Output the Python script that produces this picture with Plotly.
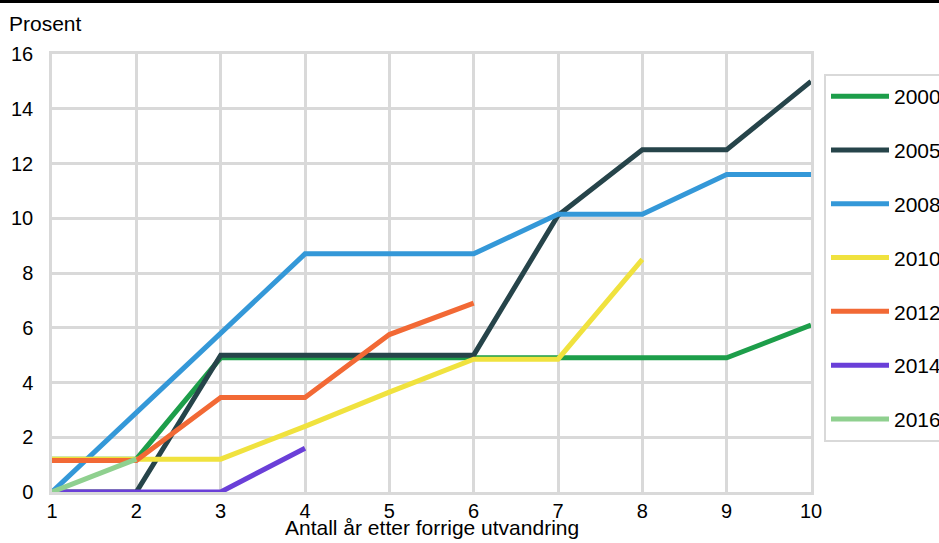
import plotly.graph_objects as go

years_after = [1, 2, 3, 4, 5, 6, 7, 8, 9, 10]

series_names = ["2000", "2005", "2008", "2010", "2012", "2014", "2016"]
s2000 = [1.2, 1.2, 4.9, 4.9, 4.9, 4.9, 4.9, 4.9, 4.9, 6.1]
s2005 = [0.0, 0.0, 5.0, 5.0, 5.0, 5.0, 10.1, 12.5, 12.5, 15.0]
s2008 = [0.0, 2.9, 5.8, 8.7, 8.7, 8.7, 10.15, 10.15, 11.6, 11.6]
s2010 = [1.2, 1.2, 1.2, 2.4, 3.65, 4.85, 4.85, 8.5]
s2012 = [1.15, 1.15, 3.45, 3.45, 5.75, 6.9]
s2014 = [0.0, 0.0, 0.0, 1.6]
s2016 = [0.0, 1.2]
series_values = [s2000, s2005, s2008, s2010, s2012, s2014, s2016]
colors = ["#1d9e4a", "#26444a", "#3498d8", "#f0e23e", "#f26935", "#6a3fd8", "#8fd08f"]

y_ticks = [0, 2, 4, 6, 8, 10, 12, 14, 16]
x_title = "Antall år etter forrige utvandring"
y_title = "Prosent"

FONT = "Liberation Sans, Arial, sans-serif"
FS = 20
FT = 21
W, H = 939, 543
L, R, T, B = 52, 128, 54, 51
pw, ph = W - L - R, H - T - B

fig = go.Figure()
for name, vals, col in zip(series_names, series_values, colors):
    fig.add_trace(go.Scatter(
        x=years_after[:len(vals)], y=vals, name=name, mode="lines",
        line=dict(color=col, width=5), legendgroup=name,
    ))

grid = "#d9d9d9"
fig.update_layout(
    width=W, height=H,
    margin=dict(l=L, r=R, t=T, b=B, autoexpand=False),
    plot_bgcolor="white", paper_bgcolor="white",
    font=dict(family=FONT, size=FS, color="#000000"),
    xaxis=dict(range=[1, 10], tickvals=years_after, showgrid=True, gridcolor=grid,
               gridwidth=2.5, zeroline=False, showline=True, linecolor=grid, linewidth=2.5,
               mirror=True, ticks="outside", ticklen=1, tickcolor="rgba(0,0,0,0)",
               ticklabelstandoff=-2, tickfont=dict(size=FS)),
    yaxis=dict(range=[0, 16], tickvals=y_ticks, showgrid=True, gridcolor=grid,
               gridwidth=2.5, zeroline=False, showline=True, linecolor=grid, linewidth=2.5,
               mirror=True, ticks="outside", ticklen=12, tickcolor="rgba(0,0,0,0)",
               tickfont=dict(size=FS)),
    legend=dict(x=(824 - L) / pw, y=(H - B - 74) / ph, xanchor="left", yanchor="top",
                bordercolor=grid, borderwidth=2, bgcolor="white",
                font=dict(size=FT), traceorder="grouped", tracegroupgap=23.5,
                itemwidth=58),
    showlegend=True,
)

fig.add_annotation(text=y_title, xref="paper", yref="paper",
                   x=(7 - L) / pw, y=(H - B - 24) / ph, xanchor="left", yanchor="middle",
                   showarrow=False, font=dict(size=FT))
fig.add_annotation(text=x_title, xref="paper", yref="paper",
                   x=0.5, y=(H - B - 527) / ph, xanchor="center", yanchor="middle",
                   showarrow=False, font=dict(size=FT))
fig.add_shape(type="rect", xref="paper", yref="paper",
              x0=-L / pw, x1=(W - L) / pw, y0=(H - B - 3) / ph, y1=(H - B + 2) / ph,
              fillcolor="black", line=dict(width=0), layer="above")

fig.write_html("out.html", config={"displayModeBar": False},
               post_script="document.body.style.margin='0';document.body.style.overflow='hidden';")
